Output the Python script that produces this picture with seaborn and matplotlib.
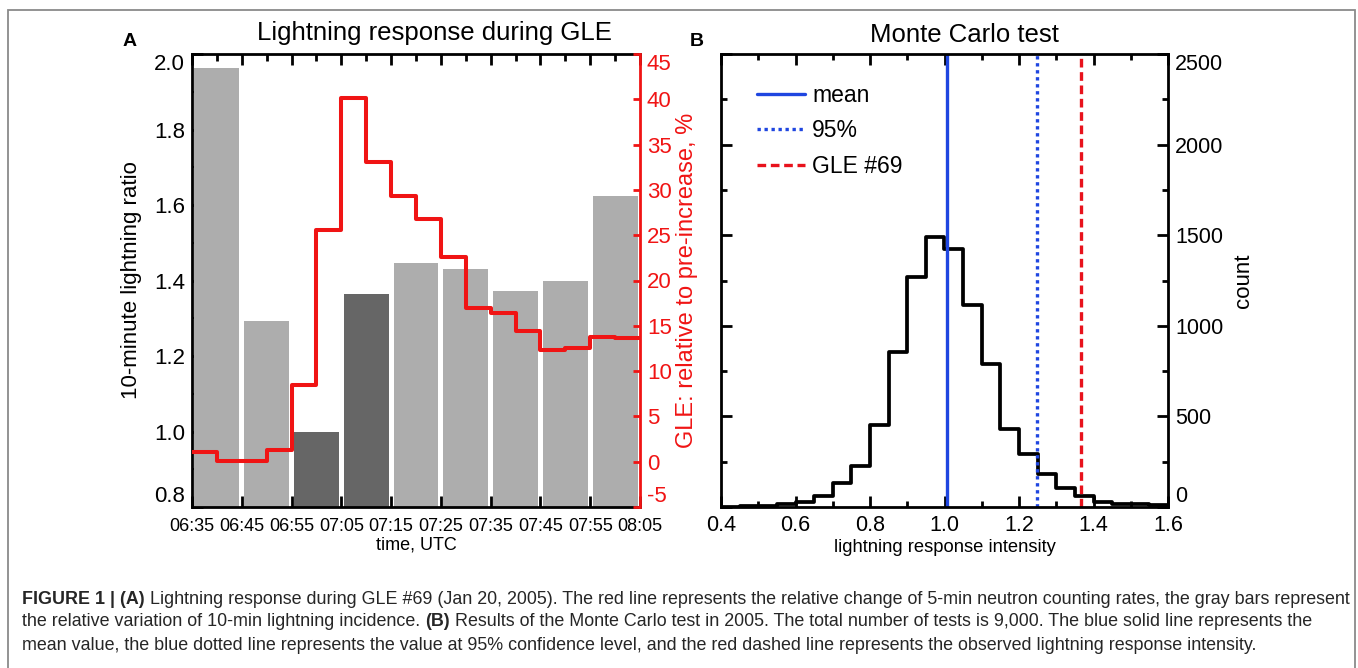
import numpy as np
import pandas as pd
import matplotlib
matplotlib.use("Agg")
import matplotlib.pyplot as plt
import seaborn as sns
from matplotlib.patches import Rectangle
from matplotlib.ticker import MultipleLocator, FixedLocator, FormatStrFormatter

# ---------------- data ----------------
time_labels = ["06:35", "06:45", "06:55", "07:05", "07:15",
               "07:25", "07:35", "07:45", "07:55", "08:05"]
lightning_ratio = [1.962, 1.293, 1.000, 1.364, 1.447, 1.430, 1.373, 1.400, 1.625]
bar_shade = ["light", "light", "dark", "dark", "light", "light", "light", "light", "light"]
gle_step_minutes = 5
gle_increase = [1.1, 0.1, 0.1, 1.3, 8.5, 25.6, 40.1, 33.1, 29.3,
                26.8, 22.6, 17.0, 16.4, 14.4, 12.3, 12.5, 13.8, 13.7]

mc_bin_start = [0.40, 0.45, 0.50, 0.55, 0.60, 0.65, 0.70, 0.75, 0.80, 0.85, 0.90, 0.95,
                1.00, 1.05, 1.10, 1.15, 1.20, 1.25, 1.30, 1.35, 1.40, 1.45, 1.50, 1.55]
mc_counts = [0, 3, 8, 15, 30, 59, 133, 226, 454, 856, 1269, 1491,
             1426, 1117, 791, 430, 293, 180, 105, 60, 30, 18, 16, 12]
mc_bin_width = 0.05
mc_mean = 1.007
mc_p95 = 1.248
gle69_intensity = 1.366

caption_lines = [
    [("FIGURE 1 | (A)", True),
     (" Lightning response during GLE #69 (Jan 20, 2005). The red line represents the relative change of 5-min neutron counting rates, the gray bars represent", False)],
    [("the relative variation of 10-min lightning incidence. ", False), ("(B)", True),
     (" Results of the Monte Carlo test in 2005. The total number of tests is 9,000. The blue solid line represents the", False)],
    [("mean value, the blue dotted line represents the value at 95% confidence level, and the red dashed line represents the observed lightning response intensity.", False)],
]

# ---------------- style ----------------
sns.set_theme(style="white", rc={
    "axes.edgecolor": "black", "axes.linewidth": 2.0,
    "xtick.color": "black", "ytick.color": "black",
    "text.color": "black", "axes.labelcolor": "black",
})
plt.rcParams["font.family"] = ["Liberation Sans", "DejaVu Sans"]
plt.rcParams["axes.unicode_minus"] = False

W, H = 1358, 668
fig = plt.figure(figsize=(W / 100, H / 100), dpi=100)

def px_axes(x0, x1, y0, y1):
    return fig.add_axes([x0 / W, 1 - y1 / H, (x1 - x0) / W, (y1 - y0) / H])

RED = "#f01414"
BLUE = "#1f46e0"

# ---------------- panel A ----------------
def to_min(s):
    h, m = s.split(":")
    return int(h) * 60 + int(m)

t0 = to_min(time_labels[0])
label_pos = [(to_min(s) - t0) / 10 for s in time_labels]
bar_centers = [(a + b) / 2 for a, b in zip(label_pos[:-1], label_pos[1:])]
gle_x = [i * gle_step_minutes / 10 for i in range(len(gle_increase))] + [label_pos[-1]]
gle_y = gle_increase + [gle_increase[-1]]

axA = px_axes(192, 640, 54, 507)
dfA = pd.DataFrame({"x": bar_centers, "ratio": lightning_ratio, "shade": bar_shade})
sns.barplot(data=dfA, x="x", y="ratio", hue="shade", native_scale=True,
            palette={"light": "#adadad", "dark": "#666666"}, dodge=False,
            width=0.9, saturation=1, legend=False, errorbar=None,
            linewidth=0, edgecolor="none", ax=axA)
axA.set_xlim(0, 9)
axA.set_ylim(0.8, 2.0)
axA.xaxis.set_major_locator(FixedLocator(label_pos))
axA.set_xticklabels(time_labels, fontsize=13)
axA.xaxis.set_minor_locator(MultipleLocator(0.5))
axA.yaxis.set_major_locator(FixedLocator([0.8, 1.0, 1.2, 1.4, 1.6, 1.8, 2.0]))
axA.yaxis.set_minor_locator(MultipleLocator(0.1))
axA.yaxis.set_major_formatter(FormatStrFormatter("%.1f"))
axA.tick_params(axis="x", which="major", direction="in", length=8, width=2,
                top=True, bottom=True, pad=8)
axA.tick_params(axis="x", which="minor", direction="in", length=5, width=2,
                top=True, bottom=False)
axA.tick_params(axis="y", which="major", direction="in", length=8, width=2,
                left=True, right=False, labelsize=16, pad=5)
axA.tick_params(axis="y", which="minor", direction="in", length=4, width=1.5,
                left=True, right=False)
axA.set_xlabel("time, UTC", fontsize=13, labelpad=1)
axA.set_ylabel("10-minute lightning ratio", fontsize=16)
axA.yaxis.set_label_coords(-0.112, 0.5)
axA.spines["right"].set_visible(False)

axA2 = axA.twinx()
sns.lineplot(x=gle_x, y=gle_y, drawstyle="steps-post", color=RED, linewidth=2.9,
             estimator=None, sort=False, ax=axA2)
axA2.set_ylim(-5, 45)
axA2.yaxis.set_major_locator(FixedLocator(list(range(-5, 50, 5))))
axA2.tick_params(axis="y", direction="in", length=5, width=2, colors=RED,
                 labelsize=16, pad=5)
for side in ["left", "top", "bottom"]:
    axA2.spines[side].set_visible(False)
axA2.spines["right"].set_color(RED)
axA2.spines["right"].set_linewidth(2)
axA2.set_ylabel("GLE: relative to pre-increase, %", color=RED, fontsize=17)
axA2.yaxis.set_label_coords(1.08, 0.5)
axA2.set_xlim(0, 9)

fig.text(130 / W, 1 - 42 / H, "A", fontsize=14, fontweight="bold", ha="center", va="center")
fig.text(434 / W, 1 - 33 / H, "Lightning response during GLE", fontsize=18.5,
         ha="center", va="center")

# ---------------- panel B ----------------
axB = px_axes(721, 1168, 54, 507)
mc_edges = list(mc_bin_start) + [round(mc_bin_start[-1] + mc_bin_width, 2)]
mc_centers = [b + mc_bin_width / 2 for b in mc_bin_start]
sns.histplot(x=mc_centers, weights=mc_counts, bins=mc_edges, element="step",
             fill=False, color="black", linewidth=2.7, ax=axB)
axB.axvline(mc_mean, color=BLUE, lw=2.4, label="mean")
axB.axvline(mc_p95, color=BLUE, lw=2.4, linestyle=(0, (1, 1.1)), label="95%")
axB.axvline(gle69_intensity, color="#e8121c", lw=2.4, linestyle=(0, (2.6, 1.4)), label="GLE #69")
axB.set_xlim(0.4, 1.6)
axB.set_ylim(0, 2500)
axB.xaxis.set_major_locator(FixedLocator([0.4, 0.6, 0.8, 1.0, 1.2, 1.4, 1.6]))
axB.xaxis.set_minor_locator(MultipleLocator(0.1))
axB.xaxis.set_major_formatter(FormatStrFormatter("%.1f"))
axB.yaxis.set_major_locator(FixedLocator([0, 500, 1000, 1500, 2000, 2500]))
axB.yaxis.set_minor_locator(MultipleLocator(250))
axB.yaxis.tick_right()
axB.yaxis.set_label_position("right")
axB.tick_params(axis="x", which="major", direction="in", length=8, width=2,
                top=True, bottom=True, labelsize=15.5, pad=6)
axB.tick_params(axis="x", which="minor", direction="in", length=4, width=2,
                top=True, bottom=True)
axB.tick_params(axis="y", which="major", direction="in", length=8, width=2,
                left=True, right=True, labelleft=False, labelright=True,
                labelsize=15.5, pad=5)
axB.tick_params(axis="y", which="minor", direction="in", length=4, width=2,
                left=True, right=True)
axB.set_xlabel("lightning response intensity", fontsize=13.2, labelpad=2)
axB.set_ylabel("count", fontsize=16)
axB.yaxis.set_label_coords(1.145, 0.5)
leg = axB.legend(loc="upper left", bbox_to_anchor=(0.06, 0.955), frameon=False,
                 fontsize=16.5, handlelength=2.1, handletextpad=0.3,
                 labelspacing=0.55, borderaxespad=0)
fig.text(697 / W, 1 - 42 / H, "B", fontsize=14, fontweight="bold", ha="center", va="center")
fig.text(964 / W, 1 - 35 / H, "Monte Carlo test", fontsize=18.5, ha="center", va="center")

# ---------------- border & caption ----------------
fig.patches.append(Rectangle((8 / W, -0.02), (1355 - 8) / W, 1 - 10 / H + 0.02,
                             transform=fig.transFigure, fill=False,
                             edgecolor="#8a8a8a", linewidth=1.3))

fig.canvas.draw()
renderer = fig.canvas.get_renderer()

# end tick labels pulled inward (as in the reference)
def shift_end_labels(ax, low_txt, high_txt):
    for lab in ax.get_yticklabels():
        if lab.get_text() == low_txt:
            lab.set_va("bottom")
        elif lab.get_text() == high_txt:
            lab.set_va("top")

shift_end_labels(axA, "0.8", "2.0")
shift_end_labels(axA2, "-5", "45")
shift_end_labels(axB, "0", "2500")

CAP_COLOR = "#262626"

def piece_width(s, size, bold):
    w_kw = dict(fontsize=size, fontweight="bold" if bold else "normal")
    t = fig.text(0, 0, "X" + s + "X", **w_kw)
    w = t.get_window_extent(renderer).width
    t.remove()
    t2 = fig.text(0, 0, "XX", **w_kw)
    w2 = t2.get_window_extent(renderer).width
    t2.remove()
    return w - w2

base = 13.0
w1 = sum(piece_width(s, base, b) for s, b in caption_lines[0])
cap_size = base * (1348 - 22) / w1
cap_y = [599, 622, 645]
for line, yy in zip(caption_lines, cap_y):
    x = 22
    for s, b in line:
        fig.text(x / W, 1 - yy / H, s, fontsize=cap_size,
                 fontweight="bold" if b else "normal", ha="left", va="center",
                 color=CAP_COLOR)
        x += piece_width(s, cap_size, b)

fig.savefig("out.png", dpi=100)
